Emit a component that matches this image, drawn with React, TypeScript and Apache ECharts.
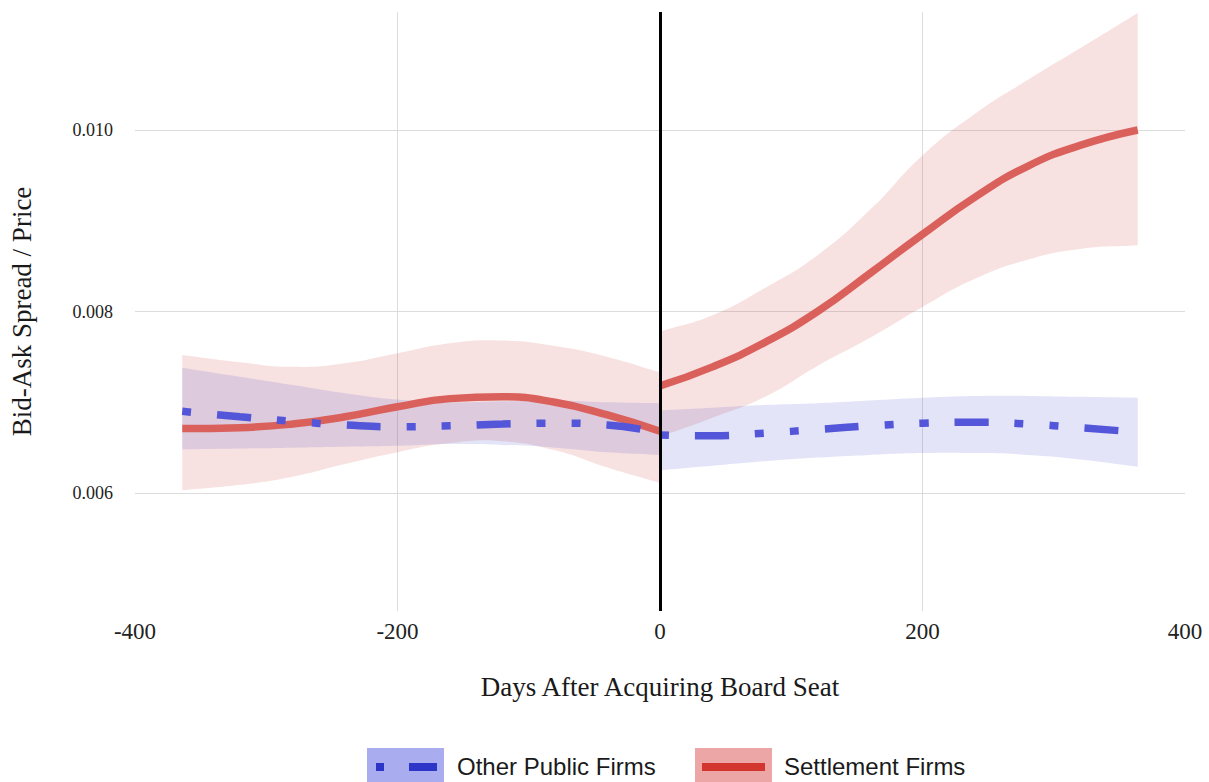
import React, { useEffect, useRef } from "react";
import * as echarts from "echarts";

// ---- data ----
const preDays = [-364, -320, -280, -240, -200, -160, -120, -80, -40, 0];
const postDays = [0, 40, 80, 120, 160, 200, 240, 280, 320, 364];

const settlePreFit = [0.00671, 0.00672, 0.00676, 0.00684, 0.00695, 0.00704, 0.00706, 0.007, 0.00686, 0.00668];
const settlePreUpper = [0.00752, 0.00744, 0.00739, 0.00743, 0.00754, 0.00765, 0.00768, 0.00762, 0.0075, 0.00733];
const settlePreLower = [0.00603, 0.00609, 0.00618, 0.00632, 0.00645, 0.00655, 0.00657, 0.00647, 0.00628, 0.00611];

const settlePostFit = [0.00718, 0.00739, 0.00766, 0.008, 0.00842, 0.00885, 0.00926, 0.0096, 0.00983, 0.01];
const settlePostUpper = [0.00778, 0.00796, 0.00826, 0.00862, 0.00912, 0.00972, 0.01018, 0.01055, 0.0109, 0.01129];
const settlePostLower = [0.00662, 0.00683, 0.00706, 0.0074, 0.00771, 0.00805, 0.00836, 0.00857, 0.00869, 0.00873];

const otherPreFit = [0.0069, 0.00684, 0.00679, 0.00675, 0.00673, 0.00674, 0.00676, 0.00677, 0.00675, 0.00666];
const otherPreUpper = [0.00738, 0.00728, 0.00719, 0.0071, 0.00703, 0.007, 0.00701, 0.00702, 0.007, 0.00699];
const otherPreLower = [0.00648, 0.00649, 0.0065, 0.00651, 0.00652, 0.00654, 0.00653, 0.0065, 0.00645, 0.00642];

const otherPostFit = [0.00664, 0.00663, 0.00666, 0.0067, 0.00674, 0.00677, 0.00678, 0.00676, 0.00672, 0.00667];
const otherPostUpper = [0.00691, 0.00694, 0.00697, 0.00699, 0.00702, 0.00705, 0.00707, 0.00707, 0.00706, 0.00705];
const otherPostLower = [0.00625, 0.0063, 0.00635, 0.00639, 0.00642, 0.00644, 0.00644, 0.00642, 0.00637, 0.00629];

const xTickLabels = [-400, -200, 0, 200, 400];
const xGridValues = [-200, 0, 200];
const yTickLabels = [0.006, 0.008, 0.01];
const eventDay = [0];

const seriesNames = ["Other Public Firms", "Settlement Firms"];

// ---- styles ----
const SERIF = "'Liberation Serif', 'Times New Roman', serif";
const SANS = "'Liberation Sans', Arial, sans-serif";
const RED_LINE = "#da615b";
const BLUE_LINE = "#5356d9";
const RED_BAND = "rgba(208, 55, 55, 0.15)";
const BLUE_BAND = "rgba(68, 75, 200, 0.15)";
const BLUE_DASH = [9, 26, 34, 26, 9, 26];

function pairs(xs: number[], ys: number[]) {
  return xs.map((x, i) => [x, ys[i]]);
}

function bandSeries(days: number[], lower: number[], upper: number[], fill: string) {
  return {
    type: "custom",
    coordinateSystem: "cartesian2d",
    silent: true,
    z: 1,
    data: days.map((d, i) => [d, lower[i], upper[i]]),
    encode: { x: 0, y: [1, 2] },
    renderItem: (params: any, api: any) => {
      if (params.dataIndex !== 0) return null;
      const top = days.map((d, i) => api.coord([d, upper[i]]));
      const bot = days.map((d, i) => api.coord([d, lower[i]])).reverse();
      const pts = [top[0], ...top, top[top.length - 1], bot[0], ...bot, bot[bot.length - 1]];
      return {
        type: "polygon",
        shape: { points: pts, smooth: 0.5 },
        style: { fill },
      };
    },
  };
}

function lineSeries(name: string, days: number[], vals: number[], color: string, dash: any, extra: any = {}) {
  return {
    name,
    type: "line",
    data: pairs(days, vals),
    smooth: 0.5,
    showSymbol: false,
    symbol: "none",
    silent: true,
    z: 2,
    lineStyle: { color, width: 7.5, type: dash, cap: "butt" },
    ...extra,
  };
}

export default function App() {
  const ref = useRef<HTMLDivElement>(null);

  useEffect(() => {
    if (!ref.current) return;
    const chart = echarts.init(ref.current, undefined, { renderer: "svg" });

    const option: any = {
      animation: false,
      backgroundColor: "#ffffff",
      grid: { left: 135, right: 24, top: 12, bottom: 171, containLabel: false, outerBoundsMode: "none" },
      xAxis: {
        type: "value",
        min: -400,
        max: 400,
        name: "Days After Acquiring Board Seat",
        nameLocation: "middle",
        nameGap: 62,
        nameTextStyle: { fontFamily: SERIF, fontSize: 27, color: "#1a1a1a" },
        axisLine: { show: false },
        axisTick: { show: false, customValues: xGridValues },
        axisLabel: {
          customValues: xTickLabels,
          fontFamily: SERIF,
          fontSize: 23,
          color: "#222",
          margin: 9,
          formatter: (v: number) => String(v),
        },
        splitLine: { show: true, lineStyle: { color: "#dcdcdc", width: 1 } },
      },
      yAxis: {
        type: "value",
        min: 0.0047,
        max: 0.0113,
        name: "Bid-Ask Spread / Price",
        nameLocation: "middle",
        nameGap: 100,
        nameTextStyle: { fontFamily: SERIF, fontSize: 27, color: "#1a1a1a" },
        axisLine: { show: false },
        axisTick: { show: false, customValues: yTickLabels },
        axisLabel: {
          customValues: yTickLabels,
          fontFamily: SERIF,
          fontSize: 18,
          color: "#222",
          margin: 22,
          formatter: (v: number) => v.toFixed(3),
        },
        splitLine: { show: true, lineStyle: { color: "#dcdcdc", width: 1 } },
      },
      series: [
        bandSeries(preDays, settlePreLower, settlePreUpper, RED_BAND),
        bandSeries(postDays, settlePostLower, settlePostUpper, RED_BAND),
        bandSeries(preDays, otherPreLower, otherPreUpper, BLUE_BAND),
        bandSeries(postDays, otherPostLower, otherPostUpper, BLUE_BAND),
        lineSeries(seriesNames[1], preDays, settlePreFit, RED_LINE, "solid"),
        lineSeries(seriesNames[1], postDays, settlePostFit, RED_LINE, "solid"),
        lineSeries(seriesNames[0], preDays, otherPreFit, BLUE_LINE, BLUE_DASH),
        lineSeries(seriesNames[0], postDays, otherPostFit, BLUE_LINE, BLUE_DASH, {
          markLine: {
            silent: true,
            symbol: ["none", "none"],
            label: { show: false },
            lineStyle: { color: "#000000", width: 3, type: "solid" },
            data: eventDay.map((d) => ({ xAxis: d })),
          },
        }),
      ],
      graphic: [
        { type: "rect", left: 367, top: 748, shape: { width: 77, height: 40 }, style: { fill: "#a9acee" } },
        { type: "rect", left: 376, top: 763, shape: { width: 8, height: 8 }, style: { fill: "#2c35c8" } },
        { type: "rect", left: 409, top: 763, shape: { width: 28, height: 8 }, style: { fill: "#2c35c8" } },
        {
          type: "text",
          left: 457,
          top: 754,
          style: { text: seriesNames[0], fontFamily: SANS, fontSize: 24, fill: "#1a1a1a" },
        },
        { type: "rect", left: 695, top: 748, shape: { width: 77, height: 40 }, style: { fill: "#eba6a5" } },
        { type: "rect", left: 702, top: 763, shape: { width: 63, height: 8 }, style: { fill: "#d3352f" } },
        {
          type: "text",
          left: 784,
          top: 754,
          style: { text: seriesNames[1], fontFamily: SANS, fontSize: 24, fill: "#1a1a1a" },
        },
      ],
    };

    chart.setOption(option);
    return () => chart.dispose();
  }, []);

  return (
    <div
      ref={ref}
      style={{ position: "fixed", left: 0, top: 0, width: 1209, height: 782, background: "#fff" }}
    />
  );
}
